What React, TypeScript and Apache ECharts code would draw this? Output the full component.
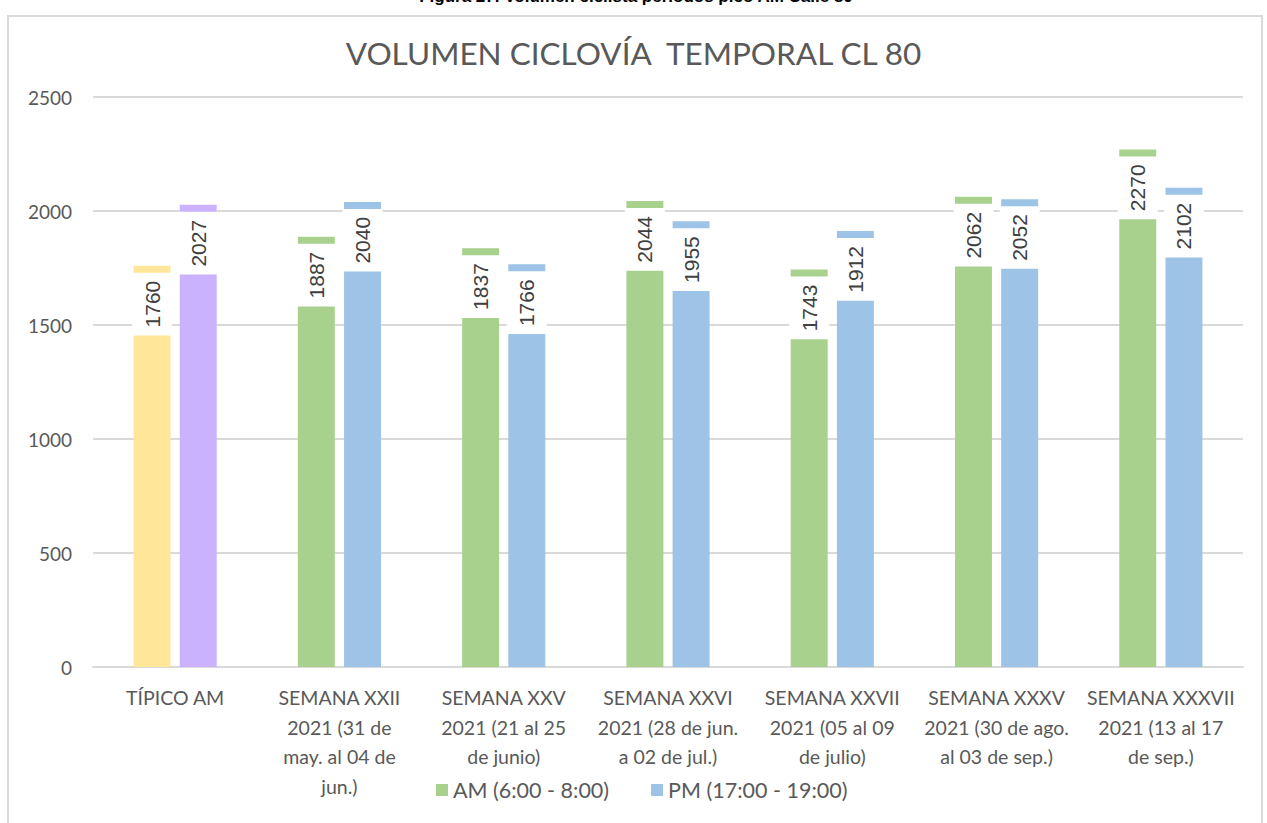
import React, { useEffect, useRef } from "react";
import * as echarts from "echarts";

const categories = [
  "TÍPICO AM",
  "SEMANA XXII\n2021 (31 de\nmay. al 04 de\njun.)",
  "SEMANA XXV\n2021 (21 al 25\nde junio)",
  "SEMANA XXVI\n2021 (28 de jun.\na 02 de jul.)",
  "SEMANA XXVII\n2021 (05 al 09\nde julio)",
  "SEMANA XXXV\n2021 (30 de ago.\nal 03 de sep.)",
  "SEMANA XXXVII\n2021 (13 al 17\nde sep.)",
];
const amValues = [1760, 1887, 1837, 2044, 1743, 2062, 2270];
const pmValues = [2027, 2040, 1766, 1955, 1912, 2052, 2102];
const yTicks = [0, 500, 1000, 1500, 2000, 2500];

const AM_COLOR = "#A9D18E";
const PM_COLOR = "#9DC3E6";
const TYPICAL_AM_COLOR = "#FFE699";
const TYPICAL_PM_COLOR = "#CBB2FF";

export default function App() {
  const ref = useRef<HTMLDivElement>(null);
  useEffect(() => {
    document.body.style.margin = "0";
    const chart = echarts.init(ref.current!, null, { renderer: "svg" });
    const label = {
      show: true,
      position: "insideTop",
      distance: 7,
      rotate: 90,
      align: "right",
      verticalAlign: "middle",
      backgroundColor: "#ffffff",
      padding: [10, 8, 9, 8],
      fontSize: 21,
      color: "#404040",
      fontFamily: "Liberation Sans",
    };
    chart.setOption({
      animation: false,
      backgroundColor: "#ffffff",
      textStyle: { fontFamily: "Lato" },
      title: {
        text: "VOLUMEN CICLOVÍA  TEMPORAL CL 80",
        left: "center",
        top: 32,
        textStyle: { fontFamily: "Lato", fontSize: 31.5, fontWeight: "normal", color: "#595959" },
      },
      graphic: [
        {
          type: "rect",
          shape: { x: 8, y: 16, width: 1254, height: 830 },
          style: { fill: "none", stroke: "#d9d9d9", lineWidth: 2 },
          silent: true,
        },
        {
          type: "text",
          x: 636,
          y: -12,
          style: {
            text: "Figura 27. Volumen ciclista periodos pico AM Calle 80",
            fontFamily: "Liberation Sans",
            fontWeight: "bold",
            fontSize: 17,
            fill: "#000000",
            align: "center",
          },
        },
      ],
      legend: {
        bottom: 17,
        left: 431,
        itemWidth: 12,
        itemHeight: 12,
        itemGap: 42,
        icon: "rect",
        textStyle: { fontFamily: "Lato", fontSize: 21.5, color: "#595959" },
        data: ["AM (6:00 - 8:00)", "PM (17:00 - 19:00)"],
      },
      grid: { left: 93, right: 24, top: 97, bottom: 156, containLabel: false },
      xAxis: {
        type: "category",
        data: categories,
        axisLine: { lineStyle: { color: "#d9d9d9", width: 2 } },
        axisTick: { show: false },
        axisLabel: {
          interval: 0,
          fontFamily: "Lato",
          fontSize: 19.5,
          color: "#595959",
          lineHeight: 29.5,
          margin: 16,
        },
      },
      yAxis: {
        type: "value",
        min: yTicks[0],
        max: yTicks[yTicks.length - 1],
        interval: 500,
        axisLine: { show: false },
        axisTick: { show: false },
        splitLine: { lineStyle: { color: "#d9d9d9", width: 2 } },
        axisLabel: {
          fontFamily: "Lato",
          fontSize: 19,
          color: "#595959",
          margin: 21,
          formatter: (v: number) => String(v),
        },
      },
      series: [
        {
          name: "AM (6:00 - 8:00)",
          type: "bar",
          barWidth: "22.5%",
          barGap: "25%",
          itemStyle: { color: AM_COLOR },
          label,
          data: amValues.map((v, i) =>
            i === 0 ? { value: v, itemStyle: { color: TYPICAL_AM_COLOR } } : v
          ),
        },
        {
          name: "PM (17:00 - 19:00)",
          type: "bar",
          barWidth: "22.5%",
          itemStyle: { color: PM_COLOR },
          label,
          data: pmValues.map((v, i) =>
            i === 0 ? { value: v, itemStyle: { color: TYPICAL_PM_COLOR } } : v
          ),
        },
      ],
    });
    return () => chart.dispose();
  }, []);
  return (
    <div
      ref={ref}
      style={{ position: "absolute", left: 0, top: 0, width: 1267, height: 823 }}
    />
  );
}
